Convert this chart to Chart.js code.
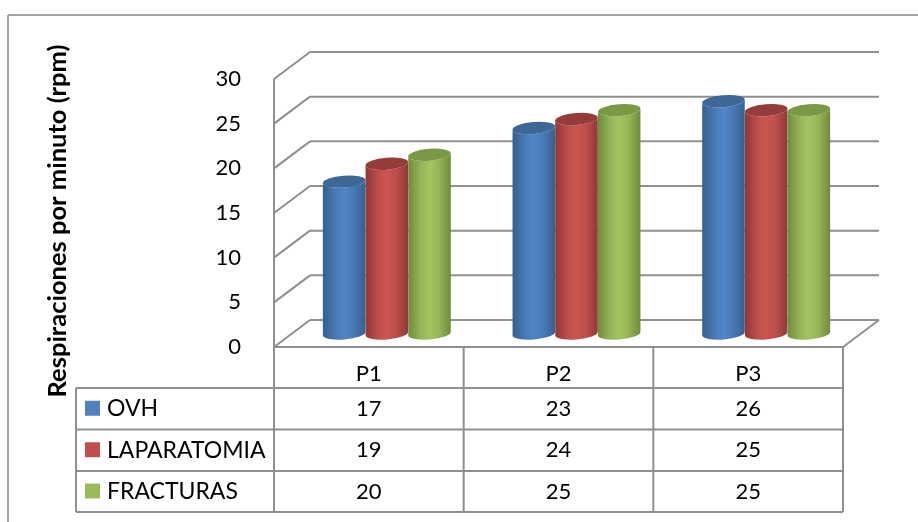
<!DOCTYPE html>
<html>
<head>
<meta charset="utf-8">
<title>Respiraciones por minuto</title>
<script src="https://cdn.jsdelivr.net/npm/chart.js@4"></script>
<style>
  html, body { margin: 0; padding: 0; background: #fff; }
  canvas { display: block; }
</style>
</head>
<body>
<canvas id="bar-chart" width="918" height="522"></canvas>
<script>
const periodos = ["P1", "P2", "P3"];
const ovh = [17, 23, 26];
const laparatomia = [19, 24, 25];
const fracturas = [20, 25, 25];
const yTicks = [0, 5, 10, 15, 20, 25, 30];
const yTitle = "Respiraciones por minuto (rpm)";

const FONT = "Lato, Calibri, sans-serif";
const LINE = "#8f8f8f";

// depth of the 3D box, the bars stand halfway in
const DEPTH_X = 36;
const DEPTH_Y = -27;

// table rows under the plot
const TABLE_LEFT = 76;
const ROW_Y = [388, 429.5, 471, 512];

function line(ctx, x1, y1, x2, y2) {
    ctx.beginPath();
    ctx.moveTo(x1, y1);
    ctx.lineTo(x2, y2);
    ctx.stroke();
}

function drawBox(chart) {
    const ctx = chart.ctx;
    const { left, right } = chart.chartArea;
    const y = chart.scales.y;
    ctx.save();
    ctx.strokeStyle = LINE;
    ctx.lineWidth = 2;
    yTicks.forEach(t => {
        const py = y.getPixelForValue(t);
        line(ctx, left, py, left + DEPTH_X, py + DEPTH_Y);
        line(ctx, left + DEPTH_X, py + DEPTH_Y, right + DEPTH_X, py + DEPTH_Y);
    });
    line(ctx, left, y.getPixelForValue(30), left, y.getPixelForValue(0));
    const floor = y.getPixelForValue(0);
    line(ctx, right, floor, right + DEPTH_X, floor + DEPTH_Y);
    ctx.restore();
}

function cylinder(ctx, x, top, bottom, w, shades) {
    const rx = w / 2;
    const ry = 6;
    const tilt = -0.08;
    const g = ctx.createLinearGradient(x - rx, 0, x + rx, 0);
    g.addColorStop(0, shades.edge);
    g.addColorStop(0.3, shades.body);
    g.addColorStop(0.5, shades.light);
    g.addColorStop(0.72, shades.body);
    g.addColorStop(1, shades.edge);
    ctx.fillStyle = g;
    ctx.beginPath();
    ctx.ellipse(x, top, rx, ry, tilt, Math.PI, 0, true);
    ctx.ellipse(x, bottom, rx, ry, tilt, 0, Math.PI);
    ctx.closePath();
    ctx.fill();
    ctx.fillStyle = shades.cap;
    ctx.beginPath();
    ctx.ellipse(x, top, rx, ry, tilt, 0, Math.PI * 2);
    ctx.fill();
}

const shades = [
    { edge: "#34608f", body: "#4a7ab5", light: "#5086c8", cap: "#3d6796" },
    { edge: "#8f3836", body: "#bd4f4c", light: "#cc5550", cap: "#953b39" },
    { edge: "#6f8b3c", body: "#97b558", light: "#a3c45e", cap: "#7a9945" }
];

const box3d = {
    id: "box3d",
    beforeDatasetsDraw(chart) {
        drawBox(chart);
        const ctx = chart.ctx;
        chart.data.datasets.forEach((ds, i) => {
            chart.getDatasetMeta(i).data.forEach(bar => {
                cylinder(ctx, bar.x + DEPTH_X / 2, bar.y + DEPTH_Y / 2, bar.base + DEPTH_Y / 2, bar.width, shades[i]);
            });
        });
        return false; // the cylinders replace the flat bars
    },
    afterDraw(chart) {
        const ctx = chart.ctx;
        const { left, right, bottom } = chart.chartArea;
        const x = chart.scales.x;
        ctx.save();

        // frame of the whole figure
        ctx.strokeStyle = "#868686";
        ctx.lineWidth = 1.5;
        line(ctx, 8, 15, 918, 15);
        line(ctx, 8, 15, 8, 522);

        // data table grid
        ctx.strokeStyle = LINE;
        ctx.lineWidth = 2;
        line(ctx, left, bottom, right, bottom);
        ROW_Y.forEach(r => line(ctx, TABLE_LEFT, r, right, r));
        line(ctx, TABLE_LEFT, ROW_Y[0], TABLE_LEFT, ROW_Y[3]);
        const edges = [left, (x.getPixelForValue(0) + x.getPixelForValue(1)) / 2,
            (x.getPixelForValue(1) + x.getPixelForValue(2)) / 2, right];
        edges.forEach(e => line(ctx, e, bottom, e, ROW_Y[3]));

        // legend keys and values
        ctx.textBaseline = "middle";
        chart.data.datasets.forEach((ds, i) => {
            const mid = (ROW_Y[i] + ROW_Y[i + 1]) / 2;
            ctx.fillStyle = ds.backgroundColor;
            ctx.fillRect(85, mid - 8, 15, 15);
            ctx.fillStyle = "#000";
            ctx.textAlign = "left";
            ctx.font = "23px " + FONT;
            ctx.fillText(ds.label, 107, mid);
            ctx.textAlign = "center";
            ctx.font = "22px " + FONT;
            ds.data.forEach((v, j) => ctx.fillText(String(v), x.getPixelForValue(j), mid));
        });

        // axis title
        ctx.translate(58, 221);
        ctx.rotate(-Math.PI / 2);
        ctx.font = "bold 25.5px " + FONT;
        ctx.textAlign = "center";
        ctx.fillText(yTitle, 0, 0);
        ctx.restore();
    }
};

new Chart(document.getElementById("bar-chart"), {
    type: "bar",
    data: {
        labels: periodos,
        datasets: [
            { label: "OVH", data: ovh, backgroundColor: "#4f81bd" },
            { label: "LAPARATOMIA", data: laparatomia, backgroundColor: "#c0504d" },
            { label: "FRACTURAS", data: fracturas, backgroundColor: "#9bbb59" }
        ]
    },
    options: {
        responsive: false,
        animation: false,
        layout: {
            autoPadding: false,
            padding: { left: 0, top: 79, right: 75, bottom: 75 }
        },
        plugins: { legend: { display: false }, tooltip: { enabled: false } },
        datasets: { bar: { categoryPercentage: 0.675, barPercentage: 1 } },
        scales: {
            x: {
                grid: { display: false },
                border: { display: false },
                ticks: { color: "#000", font: { family: FONT, size: 22 }, padding: 6, maxRotation: 0 },
                afterFit(scale) { scale.height = 100; }
            },
            y: {
                min: 0,
                max: 30,
                grid: { display: false },
                border: { display: false },
                ticks: { stepSize: 5, color: "#000", font: { family: FONT, size: 22 }, padding: 25 },
                afterFit(scale) { scale.width = 274; }
            }
        }
    },
    plugins: [box3d]
});
</script>
</body>
</html>
